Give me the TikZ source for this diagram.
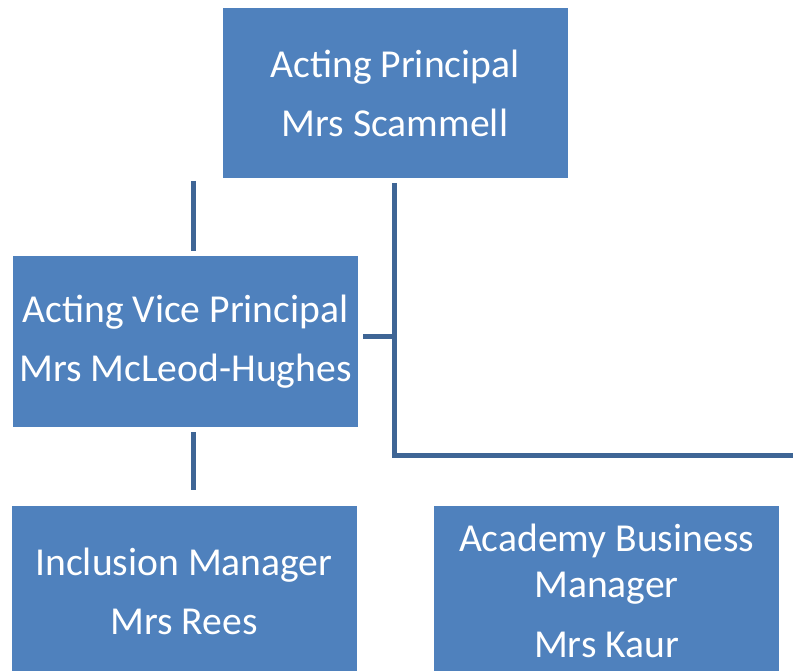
\documentclass[tikz,border=0pt]{standalone}
\usepackage{fontspec}
\setmainfont{Carlito}
\usepackage{tikz}
\usetikzlibrary{positioning,calc}
\definecolor{orgfill}{HTML}{4F81BD}
\definecolor{orgline}{HTML}{3E6595}

\begin{document}
\begin{tikzpicture}[x=1pt, y=-1pt,
    post/.style={fill=orgfill, text=white, align=center, inner sep=0pt,
      minimum width=345pt, minimum height=170pt,
      font=\fontsize{39.6}{46}\selectfont},
    link/.style={draw=orgline, line width=5pt}]
    \useasboundingbox (0,0) rectangle (793,671);
    \node[post] (ap) at (395,93) {Acting Principal\\[13pt]Mrs Scammell};
    \node[post] (avp) at (185.5,341.5) {Acting Vice Principal\\[13pt]Mrs McLeod-Hughes};
    \node[post] (im) at (184,591) {Inclusion Manager\\[13pt]Mrs Rees};
    \node[post] (abm) at (606.5,591) {Academy Business\\Manager\\[14pt]Mrs Kaur};
    % connector ends
    \coordinate (a1) at (193,181);
    \coordinate (a2) at (193,251);
    \coordinate (b1) at (394.5,183);
    \coordinate (b2) at (394.5,455.5);
    \coordinate (b3) at (795,455.5);
    \coordinate (c1) at (363,336);
    \coordinate (d1) at (193,432);
    \coordinate (d2) at (193,490);
    \draw[link] (a1) -- (a2);
    \draw[link] (b1) -- (b2) -- (b3);
    \draw[link] (c1) -- (c1 -| b1);
    \draw[link] (d1) -- (d2);
  \end{tikzpicture}
\end{document}
